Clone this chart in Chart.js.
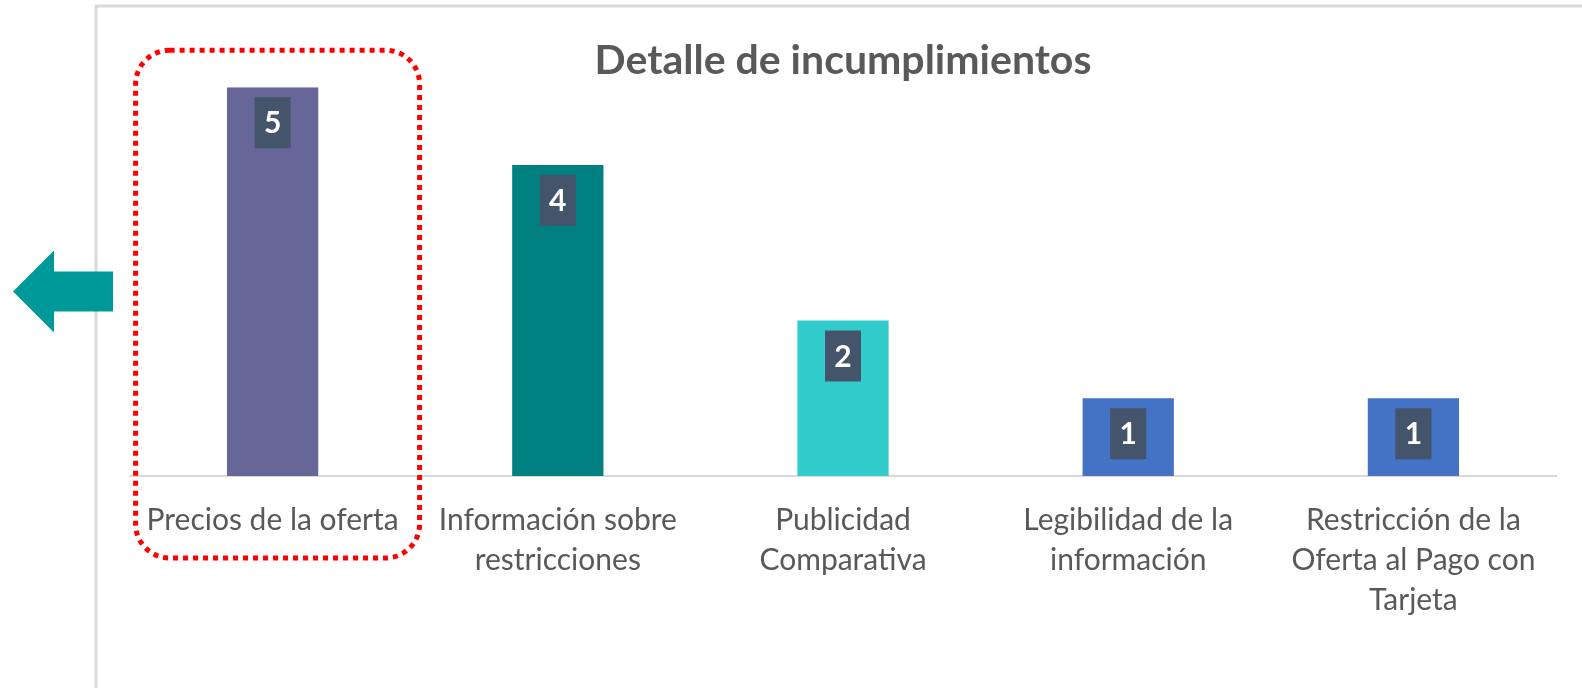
<!DOCTYPE html>
<html lang="es">
<head>
  <meta charset="UTF-8" />
  <title>Detalle de incumplimientos</title>
  <script src="https://cdn.jsdelivr.net/npm/chart.js"></script>
  <style>
    html, body { margin:0; padding:0; background:#fff; }
    canvas { display:block; }
  </style>
</head>
<body>
<canvas id="chart" width="1582" height="688"></canvas>

<script>
// ---- datos ----
const categories = [
  ['Precios de la oferta'],
  ['Información sobre', 'restricciones'],
  ['Publicidad', 'Comparativa'],
  ['Legibilidad de la', 'información'],
  ['Restricción de la', 'Oferta al Pago con', 'Tarjeta']
];
const values    = [5, 4, 2, 1, 1];
const barColors = ['#666699', '#008080', '#33CCCC', '#4472C4', '#4472C4'];
const highlightIndex = 0;   // categoría marcada con el recuadro rojo

const FONT = "Lato, 'Open Sans', sans-serif";
const GREY = '#595959';

// ---- marco, etiquetas, recuadro y flecha ----
const extras = {
  id: 'extras',
  beforeDraw(chart) {
    const ctx = chart.ctx;
    ctx.save();
    ctx.strokeStyle = '#d9d9d9';
    ctx.lineWidth = 3;
    ctx.beginPath();
    ctx.moveTo(96, chart.height + 5);
    ctx.lineTo(96, 6);
    ctx.lineTo(chart.width + 5, 6);
    ctx.stroke();
    ctx.restore();
  },
  afterDatasetsDraw(chart) {
    const ctx = chart.ctx;
    const meta = chart.getDatasetMeta(0);
    ctx.save();
    // etiquetas de valor
    meta.data.forEach((bar, i) => {
      const w = 36, h = 51, top = bar.y + 10;
      ctx.fillStyle = '#44546A';
      ctx.fillRect(bar.x - w / 2, top, w, h);
      ctx.fillStyle = '#ffffff';
      ctx.font = 'bold 30px ' + FONT;
      ctx.textAlign = 'center';
      ctx.textBaseline = 'middle';
      ctx.fillText(String(values[i]), bar.x, top + h / 2 + 1);
    });

    // recuadro rojo punteado
    const area = chart.chartArea;
    const cx = chart.scales.x.getPixelForValue(highlightIndex);
    const l = cx - 137, r = cx + 147, t = area.top - 37, b = area.bottom + 82, rad = 34;
    ctx.strokeStyle = '#ff0000';
    ctx.lineWidth = 5;
    ctx.setLineDash([5, 5]);
    ctx.beginPath();
    ctx.roundRect(l, t, r - l, b - t, rad);
    ctx.stroke();
    ctx.setLineDash([]);

    // flecha izquierda
    const ay = (area.top + area.bottom) / 2 + 10;
    ctx.fillStyle = '#009999';
    ctx.beginPath();
    ctx.moveTo(13, ay);
    ctx.lineTo(54, ay - 41);
    ctx.lineTo(54, ay - 20);
    ctx.lineTo(113, ay - 20);
    ctx.lineTo(113, ay + 20);
    ctx.lineTo(54, ay + 20);
    ctx.lineTo(54, ay + 41);
    ctx.closePath();
    ctx.fill();
    ctx.restore();
  }
};

new Chart(document.getElementById('chart'), {
  type: 'bar',
  data: {
    labels: categories,
    datasets: [{
      data: values,
      backgroundColor: barColors,
      borderWidth: 0,
      barPercentage: 0.32,
      categoryPercentage: 1
    }]
  },
  options: {
    responsive: false,
    animation: false,
    layout: { padding: { left: 130, right: 26, top: 0, bottom: 0 } },
    scales: {
      x: {
        grid: { display: false, drawTicks: false },
        border: { display: true, color: '#d9d9d9', width: 2 },
        ticks: {
          color: GREY,
          font: { family: FONT, size: 30, lineHeight: 1.32 },
          padding: 25,
          maxRotation: 0,
          autoSkip: false
        },
        afterFit(scale) { scale.height = 212; }
      },
      y: {
        display: false,
        min: 0,
        max: 5
      }
    },
    plugins: {
      legend: { display: false },
      tooltip: { enabled: false },
      title: {
        display: true,
        fullSize: false,
        text: 'Detalle de incumplimientos',
        color: GREY,
        font: { family: FONT, size: 41, weight: 'bold', lineHeight: 1.2 },
        padding: { top: 36, bottom: 2 }
      }
    }
  },
  plugins: [extras]
});
</script>
</body>
</html>
